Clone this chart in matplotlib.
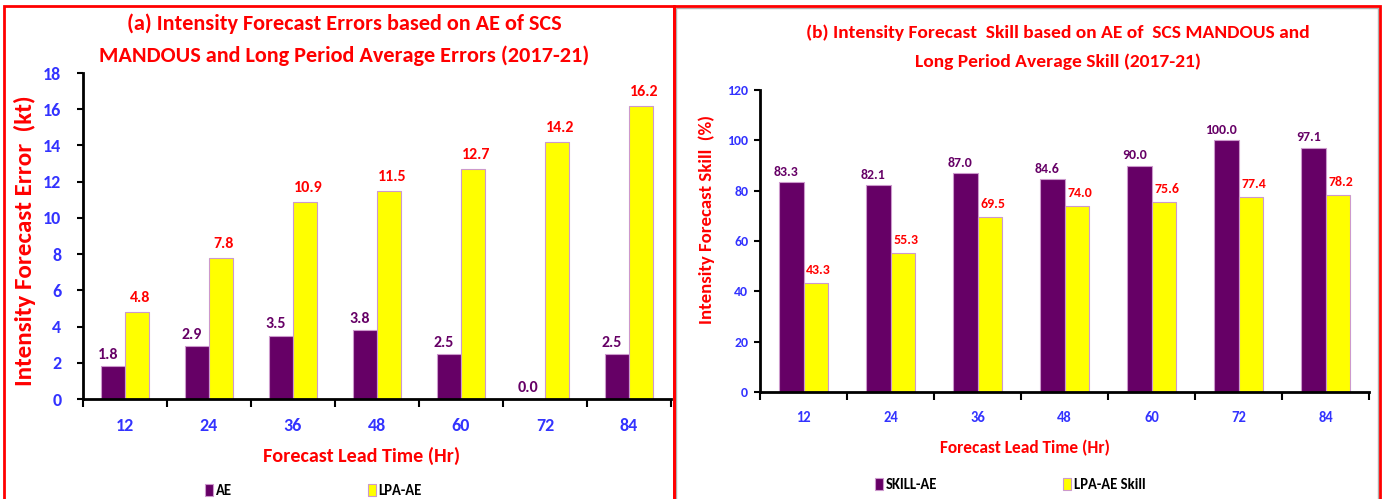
import numpy as np
import matplotlib.pyplot as plt
from matplotlib.patches import Rectangle

leads = [12, 24, 36, 48, 60, 72, 84]
ae = [1.8, 2.9, 3.5, 3.8, 2.5, 0.0, 2.5]
lpa_ae = [4.8, 7.8, 10.9, 11.5, 12.7, 14.2, 16.2]
skill_ae = [83.3, 82.1, 87.0, 84.6, 90.0, 100.0, 97.1]
lpa_skill = [43.3, 55.3, 69.5, 74.0, 75.6, 77.4, 78.2]

plt.rcParams['font.family'] = ['Carlito', 'DejaVu Sans']
plt.rcParams['font.weight'] = 'bold'

PURPLE = '#660066'
YELLOW = '#ffff00'
RED = '#ff0000'
BLUE = '#3333ff'
EDGE = '#cc99cc'

W, H = 1384, 499
fig = plt.figure(figsize=(W / 100, H / 100), dpi=100)


def box(x0, y0, x1, color, lw):
    fig.patches.append(Rectangle((x0 / W, -0.02), (x1 - x0) / W, 1 - y0 / H + 0.02,
                                 transform=fig.transFigure, fill=False, ec=color, lw=lw))


# panel frames
box(676, 8, 1378, '#b0b0b0', 1)
box(4, 6, 674, RED, 2)
box(674, 6, 1380, RED, 2)


def panel(ax, s1, s2, ymax, ystep, names, lab_size, tick_size, xtick_size, ypad):
    x = np.arange(len(leads))
    w = 0.287
    b1 = ax.bar(x - w / 2, s1, w, color=PURPLE, edgecolor=EDGE, lw=0.8, label=names[0])
    b2 = ax.bar(x + w / 2, s2, w, color=YELLOW, edgecolor=EDGE, lw=0.8, label=names[1])
    fmt = '%.1f'
    t1 = ax.bar_label(b1, labels=[fmt % v for v in s1], padding=3, color=PURPLE,
                      fontsize=lab_size, fontweight='bold')
    t2 = ax.bar_label(b2, labels=[fmt % v for v in s2], padding=5, color=RED,
                      fontsize=lab_size, fontweight='bold')
    # excel-style labels sit a bit off the bar centre
    for t in t1:
        t.xyann = (-3.5, 3)
    for t in t2:
        t.xyann = (2, 5)
    ax.set_xlim(-0.5, len(leads) - 0.5)
    ax.set_ylim(0, ymax)
    ax.set_yticks(np.arange(0, ymax + 0.1, ystep))
    ax.set_xticks(x)
    ax.set_xticklabels([str(v) for v in leads])
    ax.set_xticks(np.arange(-0.5, len(leads)), minor=True)
    ax.tick_params(axis='x', which='major', length=0, pad=14, labelsize=xtick_size,
                   labelcolor=BLUE)
    ax.tick_params(axis='x', which='minor', length=6, width=1.5, direction='out')
    ax.tick_params(axis='y', length=4, width=1.5, pad=ypad, labelsize=tick_size,
                   labelcolor=BLUE)
    for lab in ax.get_xticklabels() + ax.get_yticklabels():
        lab.set_fontweight('bold')
    for side in ['top', 'right']:
        ax.spines[side].set_visible(False)
    for side in ['left', 'bottom']:
        ax.spines[side].set_linewidth(2)


# (a) errors
ax1 = fig.add_axes([83 / W, 1 - 399 / H, (671 - 83) / W, (399 - 73) / H])
panel(ax1, ae, lpa_ae, 18, 2, ['AE', 'LPA-AE'], 11.5, 13, 13, 11.5)
ax1.set_ylabel('Intensity Forecast Error  (kt)', color=RED, fontsize=18,
               fontweight='bold', va='center')
ax1.yaxis.set_label_coords((25 - 83) / 588, (399 - 241) / 326)
ax1.set_xlabel('Forecast Lead Time (Hr)', color=RED, fontsize=14.5, fontweight='bold',
               va='center')
ax1.xaxis.set_label_coords((362 - 83) / 588, (399 - 456) / 326)
fig.text(344 / W, 1 - 24 / H, '(a) Intensity Forecast Errors based on AE of SCS',
         ha='center', va='center', color=RED, fontsize=16, fontweight='bold')
fig.text(344 / W, 1 - 56 / H, 'MANDOUS and Long Period Average Errors (2017-21)',
         ha='center', va='center', color=RED, fontsize=16, fontweight='bold')
ax1.legend(loc='center left', bbox_to_anchor=((205 - 83) / 588, (399 - 491) / 326),
           ncol=2, frameon=False, borderpad=0, borderaxespad=0,
           handlelength=0.55, handleheight=0.8, handletextpad=0.2, columnspacing=9.3,
           prop={'size': 10.5, 'weight': 'bold'})

# (b) skill
ax2 = fig.add_axes([760 / W, 1 - 392 / H, (1369 - 760) / W, (392 - 90) / H])
panel(ax2, skill_ae, lpa_skill, 120, 20, ['SKILL-AE', 'LPA-AE Skill'], 10, 10, 10.5, 4.5)
ax2.set_ylabel('Intensity Forecast Skill  (%)', color=RED, fontsize=13.5,
               fontweight='bold', va='center')
ax2.yaxis.set_label_coords((707 - 760) / 609, (392 - 219) / 302)
ax2.set_xlabel('Forecast Lead Time (Hr)', color=RED, fontsize=12.5, fontweight='bold',
               va='center')
ax2.xaxis.set_label_coords((1025 - 760) / 609, (392 - 448) / 302)
fig.text(1058 / W, 1 - 33 / H, '(b) Intensity Forecast  Skill based on AE of  SCS MANDOUS and',
         ha='center', va='center', color=RED, fontsize=14, fontweight='bold')
fig.text(1058 / W, 1 - 62 / H, 'Long Period Average Skill (2017-21)',
         ha='center', va='center', color=RED, fontsize=14, fontweight='bold')
ax2.legend(loc='center left', bbox_to_anchor=((875 - 760) / 609, (392 - 485) / 302),
           ncol=2, frameon=False, borderpad=0, borderaxespad=0,
           handlelength=0.55, handleheight=0.8, handletextpad=0.2, columnspacing=8.6,
           prop={'size': 10.5, 'weight': 'bold'})

fig.savefig('out.png', dpi=100)
